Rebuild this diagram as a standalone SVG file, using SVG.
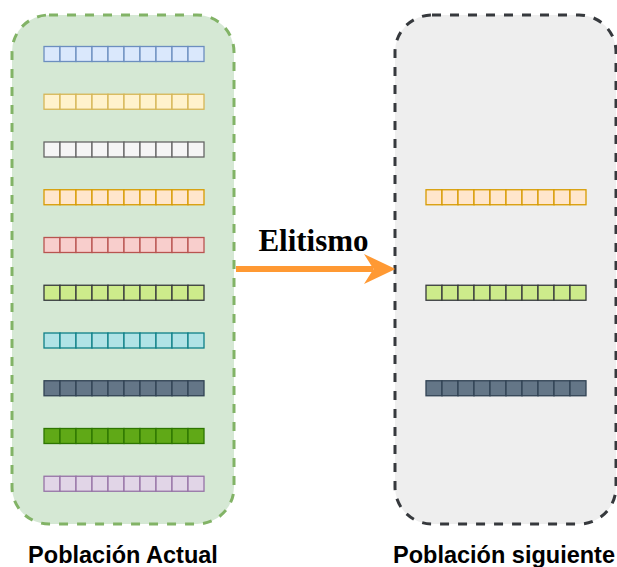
<svg xmlns="http://www.w3.org/2000/svg" xmlns:xlink="http://www.w3.org/1999/xlink" width="617" height="567" viewBox="0 0 617 567">
  <style>
    .cont { stroke-width: 3; stroke-dasharray: 9 9; }
    .bar { stroke-width: 1.3; }
    .lbl { font-family: "Liberation Sans", Arial, sans-serif; font-weight: bold; font-size: 23.5px; fill: #000; text-anchor: middle; }
    .edge { font-family: "Liberation Serif", "Times New Roman", serif; font-weight: bold; font-size: 31px; fill: #000; text-anchor: middle; }
  </style>
  <defs>
    <g id="cells">
      <rect x="0" y="0" width="16" height="15"/>
      <rect x="16" y="0" width="16" height="15"/>
      <rect x="32" y="0" width="16" height="15"/>
      <rect x="48" y="0" width="16" height="15"/>
      <rect x="64" y="0" width="16" height="15"/>
      <rect x="80" y="0" width="16" height="15"/>
      <rect x="96" y="0" width="16" height="15"/>
      <rect x="112" y="0" width="16" height="15"/>
      <rect x="128" y="0" width="16" height="15"/>
      <rect x="144" y="0" width="16" height="15"/>
    </g>
    <marker id="arrowhead" markerUnits="userSpaceOnUse" viewBox="0 0 31 30" refX="9" refY="15" markerWidth="31" markerHeight="30" orient="auto">
      <path d="M0 0 L30.5 14.5 L30.5 15.5 L0 30 L9.5 15 Z" fill="#ff9933"/>
    </marker>
  </defs>

  <g id="poblacion-actual">
    <rect class="cont" x="12" y="15" width="222" height="509" rx="37" ry="37" fill="#d5e8d4" stroke="#82b366"/>
  </g>
  <g id="poblacion-siguiente">
    <rect class="cont" x="395" y="15" width="221" height="509" rx="37" ry="37" fill="#eeeeee" stroke="#36393d"/>
  </g>

  <g id="ind-1"><use class="bar" xlink:href="#cells" x="44" y="46.5" fill="#dae8fc" stroke="#6c8ebf"/></g>
  <g id="ind-2"><use class="bar" xlink:href="#cells" x="44" y="94.25" fill="#fff2cc" stroke="#d6b656"/></g>
  <g id="ind-3"><use class="bar" xlink:href="#cells" x="44" y="142" fill="#f5f5f5" stroke="#666666"/></g>
  <g id="ind-4"><use class="bar" xlink:href="#cells" x="44" y="189.75" fill="#ffe6cc" stroke="#d79b00"/></g>
  <g id="ind-5"><use class="bar" xlink:href="#cells" x="44" y="237.5" fill="#f8cecc" stroke="#b85450"/></g>
  <g id="ind-6"><use class="bar" xlink:href="#cells" x="44" y="285.25" fill="#cdeb8b" stroke="#36393d"/></g>
  <g id="ind-7"><use class="bar" xlink:href="#cells" x="44" y="333" fill="#b0e3e6" stroke="#0e8088"/></g>
  <g id="ind-8"><use class="bar" xlink:href="#cells" x="44" y="380.75" fill="#647687" stroke="#314354"/></g>
  <g id="ind-9"><use class="bar" xlink:href="#cells" x="44" y="428.5" fill="#60a917" stroke="#2d7600"/></g>
  <g id="ind-10"><use class="bar" xlink:href="#cells" x="44" y="476.25" fill="#e1d5e7" stroke="#9673a6"/></g>

  <g id="elite-1"><use class="bar" xlink:href="#cells" x="426" y="189.75" fill="#ffe6cc" stroke="#d79b00"/></g>
  <g id="elite-2"><use class="bar" xlink:href="#cells" x="426" y="285.25" fill="#cdeb8b" stroke="#36393d"/></g>
  <g id="elite-3"><use class="bar" xlink:href="#cells" x="426" y="380.75" fill="#647687" stroke="#314354"/></g>

  <g id="connectors">
    <line x1="236" y1="269" x2="373" y2="269" stroke="#ff9933" stroke-width="6" marker-end="url(#arrowhead)"/>
    <text class="edge" x="313.5" y="251">Elitismo</text>
  </g>

  <g id="label-actual">
    <text class="lbl" x="123" y="563">Población Actual</text>
  </g>
  <g id="label-siguiente">
    <text class="lbl" x="504" y="563">Población siguiente</text>
  </g>
</svg>
